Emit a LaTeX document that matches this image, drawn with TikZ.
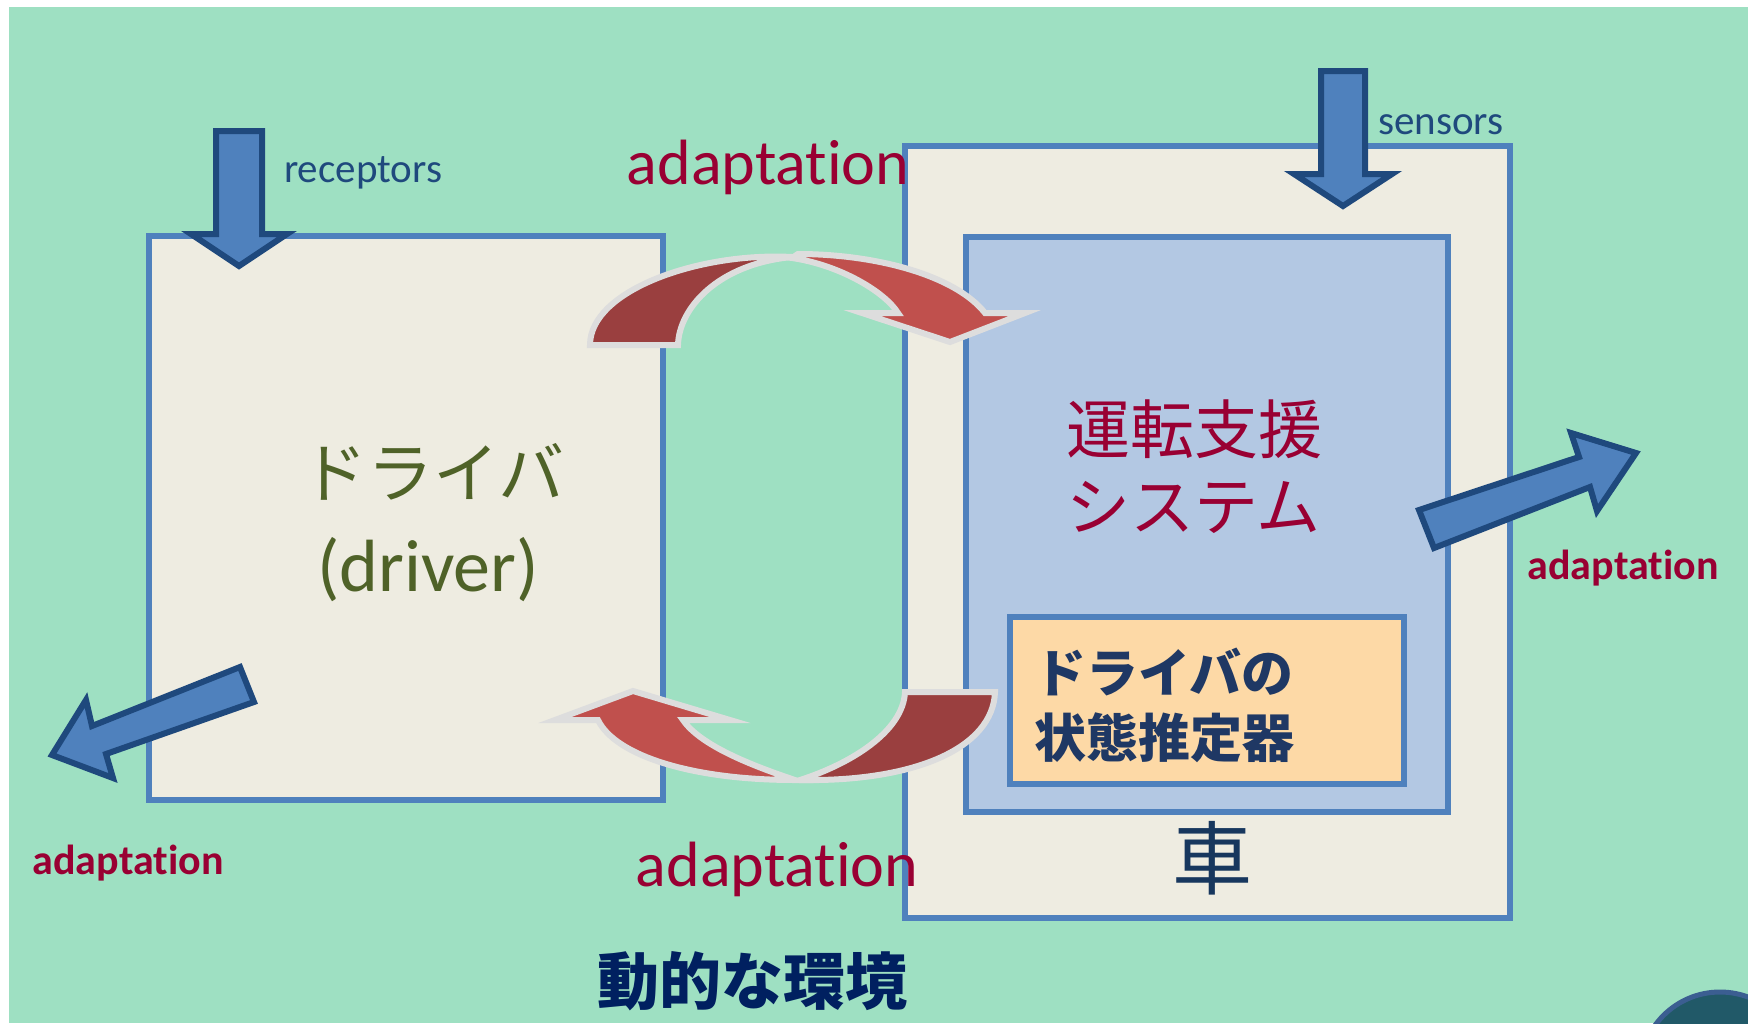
\documentclass[tikz,border=0pt]{standalone}
\usepackage{fontspec}
\setmainfont{Carlito}[Ligatures=NoCommon]
\newfontfamily\jpfont{Noto Sans CJK JP}
\usepackage{xcolor}

\definecolor{envgreen}{RGB}{158,224,194}
\definecolor{boxfill}{RGB}{238,236,225}
\definecolor{boxline}{RGB}{79,129,189}
\definecolor{sysblue}{RGB}{179,200,227}
\definecolor{estorange}{RGB}{253,217,166}
\definecolor{arrowline}{RGB}{31,73,125}
\definecolor{adared}{RGB}{153,0,51}
\definecolor{drvgreen}{RGB}{79,98,40}
\definecolor{estnavy}{RGB}{31,56,100}
\definecolor{carnavy}{RGB}{23,55,94}
\definecolor{envnavy}{RGB}{0,32,96}
\definecolor{backred}{RGB}{154,63,63}
\definecolor{frontred}{RGB}{192,80,77}
\definecolor{rimgray}{RGB}{221,221,221}
\definecolor{diskfill}{RGB}{33,89,104}
\definecolor{diskline}{RGB}{59,94,145}

\newcommand{\px}[1]{\fontsize{#1}{1.24\dimexpr#1pt\relax}\selectfont}
\newcommand{\adaptword}{adaptat\kern0pt ion}

\begin{document}
\begin{tikzpicture}[x=1pt,y=-1pt,
    panel/.style={fill=#1,draw=boxline,line width=6.5pt},
    blockarrow/.style={fill=boxline,draw=arrowline,line width=6pt,line join=miter},
    backpart/.style={fill=backred,draw=rimgray,line width=6pt,line join=miter},
    frontpart/.style={fill=frontred,draw=rimgray,line width=6pt,line join=miter},
    txt/.style={inner sep=0pt}]
  \useasboundingbox (0,0) rectangle (1748,1023);
  \clip (0,0) rectangle (1748,1023);
  \fill[envgreen] (9,7) rectangle (1748,1023);
  \draw[diskline,fill=diskfill,line width=5pt] (1720,1072) circle (80);

  % boxes
  \draw[panel=boxfill] (149,236) rectangle (663,800);
  \draw[panel=boxfill] (905,146) rectangle (1510,918);
  \draw[panel=sysblue] (966,237) rectangle (1448,812);
  \draw[panel=estorange] (1010,617) rectangle (1404,784);

  % block arrows
  \draw[blockarrow] (216,131) -- (262,131) -- (262,234) -- (287,234) -- (239,266)
    -- (191,234) -- (216,234) -- cycle;
  \draw[blockarrow] (1321,71) -- (1365,71) -- (1365,174) -- (1392,174) -- (1343,206)
    -- (1294,174) -- (1321,174) -- cycle;
  \draw[blockarrow] (254,702) -- (106,754) -- (113,778) -- (52,755) -- (86,700)
    -- (92,726) -- (240,667) -- cycle;
  \draw[blockarrow] (1419,510) -- (1579,457) -- (1571,433) -- (1636,453) -- (1597,511)
    -- (1590,487) -- (1434,548) -- cycle;

  % curved arrows
  \draw[backpart] (590,345) -- (678,345) .. controls (679,308) and (718,264) .. (792,257)
    .. controls (700,252) and (590,290) .. (590,345) -- cycle;
  \draw[frontpart] (798,254) .. controls (875,254) and (955,275) .. (985,313)
    -- (1025,313) -- (950,342) -- (862,313) -- (898,313)
    .. controls (885,292) and (840,265) .. (792,258) -- cycle;
  \draw[backpart] (905,692) -- (995,692) .. controls (993,748) and (915,782) .. (800,780)
    .. controls (850,764) and (903,732) .. (905,692) -- cycle;
  \draw[frontpart] (683,720) -- (730,720) -- (633,691) -- (555,720) -- (598,720)
    .. controls (615,755) and (690,780) .. (795,780)
    .. controls (750,765) and (700,745) .. (683,720) -- cycle;

  % texts
  \node[txt,anchor=base west,text=arrowline,font=\px{41}] (receptors) at (284,182) {receptors};
  \node[txt,anchor=base west,text=arrowline,font=\px{41}] (sensors) at (1378,134) {sensors};
  \node[txt,text=adared,font=\px{64}] (adapttop) at (768,167) {\adaptword};
  \node[txt,text=adared,font=\px{64}] (adaptbottom) at (777,869) {\adaptword};
  \node[txt,text=adared,font=\px{42}\bfseries] (adaptleft) at (128,863) {\adaptword};
  \node[txt,text=adared,font=\px{42}\bfseries] (adaptright) at (1623,568) {\adaptword};
  \node[txt,text=drvgreen,font=\jpfont\px{66}] (drvjp) at (433,472) {ドライバ};
  \node[txt,text=drvgreen,font=\px{74}] (drven) at (428,570) {(driver)};
  \node[txt,anchor=west,align=left,text=adared,font=\jpfont\fontsize{64}{77}\selectfont]
    (assist) at (1066,467) {運転支援\\システム};
  \node[txt,anchor=west,align=left,text=estnavy,font=\jpfont\bfseries\fontsize{52}{65}\selectfont]
    (estimator) at (1034,705) {ドライバの\\状態推定器};
  \node[txt,text=carnavy,font=\jpfont\px{80}] (car) at (1212,858) {車};
  \node[txt,text=envnavy,font=\jpfont\bfseries\px{62}] (env) at (752,981) {動的な環境};
\end{tikzpicture}
\end{document}
